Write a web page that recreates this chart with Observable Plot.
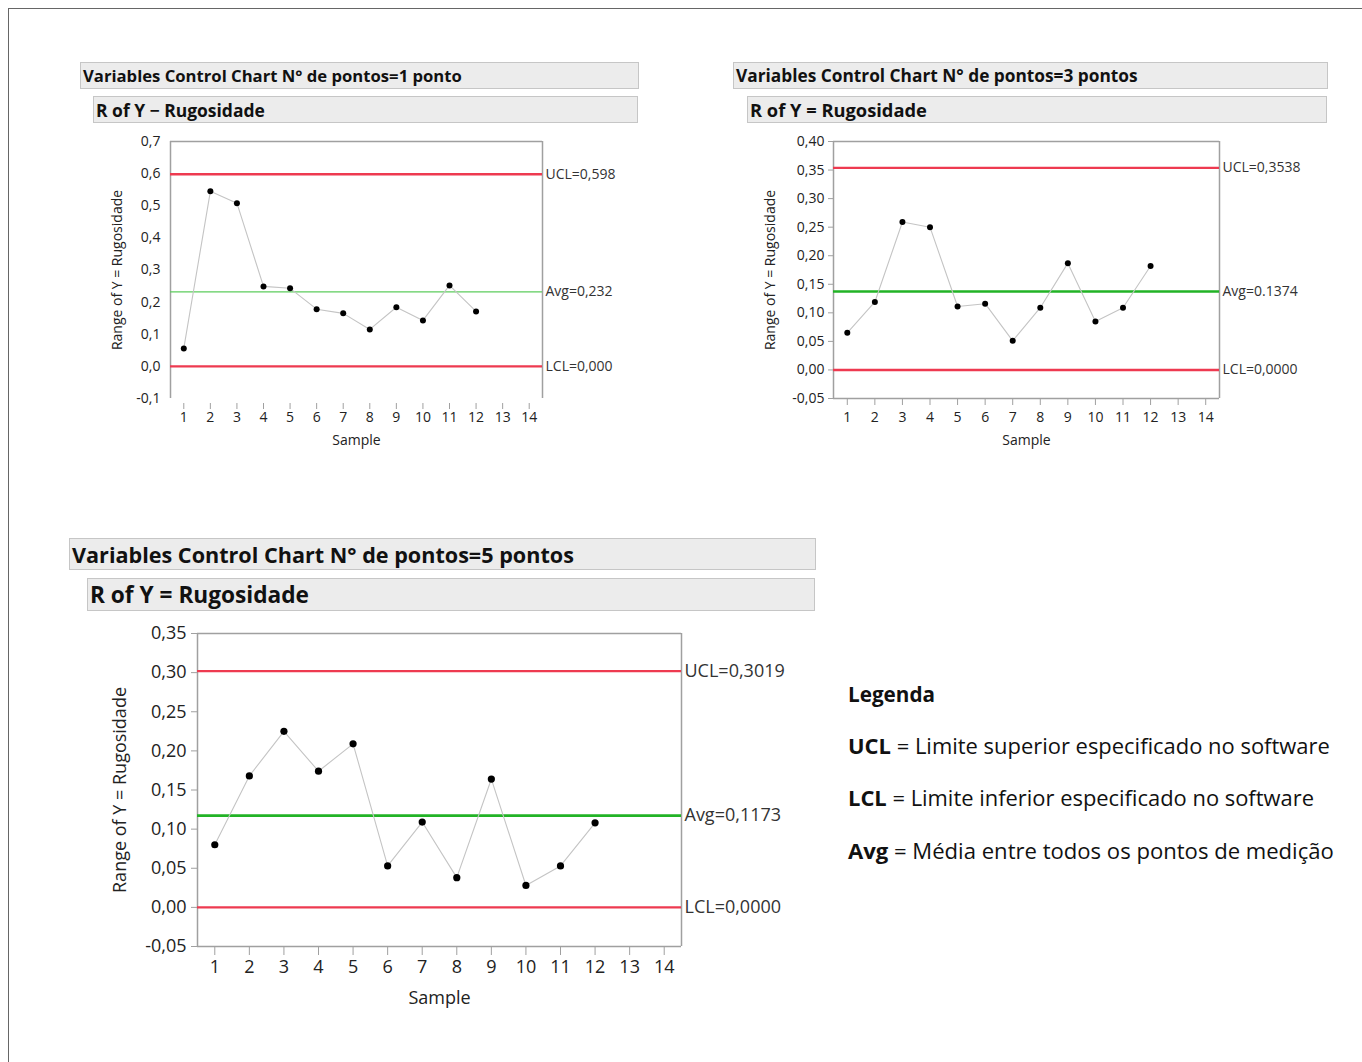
<!DOCTYPE html>
<html><head><meta charset="utf-8">
<script src="https://cdn.jsdelivr.net/npm/d3@7"></script>
<script src="https://cdn.jsdelivr.net/npm/@observablehq/plot@0.6"></script>
<style>
body{margin:0;background:#fff;}
#root{position:relative;width:1362px;height:1062px;overflow:hidden;font-family:"Open Sans",sans-serif;background:#fff;}
.frame{position:absolute;left:8px;top:8px;width:1400px;height:1100px;border-left:1px solid #666;border-top:1px solid #666;}
.bar{position:absolute;background:#ececec;border:1px solid #c6c6c6;box-sizing:border-box;font-weight:700;color:#111;white-space:nowrap;display:flex;align-items:center;padding-left:2px;}
.plot{position:absolute;}
.leg{position:absolute;white-space:nowrap;color:#111;font-family:"Open Sans",sans-serif;}
.leg b{font-weight:700;}
</style></head><body><div id="root"><div class="frame"></div></div>
<script>
// ---------- data ----------
const samples = [1,2,3,4,5,6,7,8,9,10,11,12];
const xTicks = [1,2,3,4,5,6,7,8,9,10,11,12,13,14];

const range1 = [0.056,0.545,0.508,0.249,0.243,0.178,0.165,0.115,0.184,0.143,0.252,0.171];
const range2 = [0.065,0.119,0.259,0.250,0.111,0.116,0.051,0.109,0.187,0.085,0.109,0.182];
const range3 = [0.080,0.168,0.225,0.174,0.209,0.053,0.109,0.038,0.164,0.028,0.053,0.108];

const limits1 = [0.598, 0.232, 0.0];
const limits2 = [0.3538, 0.1374, 0.0];
const limits3 = [0.3019, 0.1173, 0.0];
const limitLabels1 = ["UCL=0,598","Avg=0,232","LCL=0,000"];
const limitLabels2 = ["UCL=0,3538","Avg=0.1374","LCL=0,0000"];
const limitLabels3 = ["UCL=0,3019","Avg=0,1173","LCL=0,0000"];

const yTicks1 = [-0.1,0,0.1,0.2,0.3,0.4,0.5,0.6,0.7];
const yTicks2 = [-0.05,0,0.05,0.10,0.15,0.20,0.25,0.30,0.35,0.40];
const yTicks3 = [-0.05,0,0.05,0.10,0.15,0.20,0.25,0.30,0.35];

const titles1 = ["Variables Control Chart N° de pontos=1 ponto","R of Y − Rugosidade"];
const titles2 = ["Variables Control Chart N° de pontos=3 pontos","R of Y = Rugosidade"];
const titles3 = ["Variables Control Chart N° de pontos=5 pontos","R of Y = Rugosidade"];
const yLabel = "Range of Y = Rugosidade";
const xLabel = "Sample";

const legendTitle = "Legenda";
const legendKeys = ["UCL","LCL","Avg"];
const legendTexts = [" = Limite superior especificado no software"," = Limite inferior especificado no software"," = Média entre todos os pontos de medição"];

// ---------- helpers ----------
const root = document.getElementById("root");
const RED = "#ee3a50", GREEN = "#22b326", GREEN_LIGHT = "#5ccc5c", FRAME = "#a0a0a0";
const FONT = "'Open Sans', sans-serif";
const cv = document.createElement("canvas").getContext("2d");
function fit(text, weight, target, family = "Open Sans") {
  cv.font = `${weight} 100px "${family}"`;
  return 100 * target / cv.measureText(text).width;
}
function bar(text, x, y, w, h, textWidth) {
  const d = document.createElement("div");
  d.className = "bar";
  Object.assign(d.style, {left: x+"px", top: y+"px", width: w+"px", height: h+"px",
    fontSize: fit(text, 700, textWidth).toFixed(2) + "px"});
  d.textContent = text;
  root.appendChild(d);
}
function comma(dec) { return v => v.toFixed(dec).replace(".", ","); }

function chart(o) {
  const [top, right, bottom, left] = o.margin;
  const yd = o.yDomain, xd = [0.5, 14.5];
  const marks = [
    Plot.ruleY([yd[1]], {stroke: FRAME, strokeWidth: 1.5}),
    Plot.ruleX(xd, {stroke: FRAME, strokeWidth: 1.5}),
  ];
  if (o.bottomLine) marks.push(Plot.ruleY([yd[0]], {stroke: FRAME, strokeWidth: 1.5}));
  marks.push(
    Plot.ruleY([o.limits[0], o.limits[2]], {stroke: RED, strokeWidth: 2.4}),
    Plot.ruleY([o.limits[1]], {stroke: o.avgColor, strokeWidth: o.avgWidth}),
    Plot.line(o.values, {x: (d,i) => samples[i], y: d => d, stroke: "#c4c4c4", strokeWidth: 1.1}),
    Plot.dot(o.values, {x: (d,i) => samples[i], y: d => d, r: o.r, fill: "#000"}),
    Plot.text(o.limits, {y: d => d, text: (d,i) => o.limitLabels[i], frameAnchor: "right",
      textAnchor: "start", dx: 3, fontSize: o.fontSize, fill: "#333"}),
    Plot.axisY({ticks: o.yTicks, tickFormat: comma(o.dec), tickSize: o.yTickSize, tickPadding: o.yTickPad,
      stroke: FRAME, fill: "#222", fontSize: o.fontSize,
      label: yLabel, labelAnchor: "center", labelOffset: o.yLabelOffset, labelArrow: "none"}),
    Plot.axisX({ticks: xTicks, tickFormat: d => String(d), tickSize: o.xTickSize, tickPadding: o.xTickPad,
      stroke: FRAME, fill: "#222", fontSize: o.fontSize, dy: o.xTickOffset,
      label: xLabel, labelAnchor: "center", labelOffset: o.xLabelOffset, labelArrow: "none"})
  );
  const p = Plot.plot({
    width: o.width, height: o.height,
    marginTop: top, marginRight: right, marginBottom: bottom, marginLeft: left,
    x: {domain: xd}, y: {domain: yd},
    style: {fontFamily: FONT, fontSize: o.fontSize + "px", color: "#333", background: "transparent", overflow: "visible"},
    marks
  });
  p.classList.add("plot");
  p.style.left = o.x + "px"; p.style.top = o.y + "px";
  root.appendChild(p);
}

// ---------- chart 1 ----------
bar(titles1[0], 80, 62, 559, 27, 379);
bar(titles1[1], 93, 96, 545, 27, 169);
chart({x: 100, y: 130, width: 540, height: 330, margin: [11, 98, 62, 70],
  values: range1, limits: limits1, limitLabels: limitLabels1,
  yDomain: [-0.1, 0.7], yTicks: yTicks1, dec: 1, fontSize: 14,
  avgColor: GREEN_LIGHT, avgWidth: 1.2, r: 3, bottomLine: false,
  yTickSize: 0, yTickPad: 10, xTickSize: 6, xTickPad: 3, xTickOffset: 5,
  yLabelOffset: 58, xLabelOffset: 46});

// ---------- chart 2 ----------
bar(titles2[0], 733, 62, 595, 27, 402);
bar(titles2[1], 747, 96, 580, 27, 177);
chart({x: 750, y: 130, width: 580, height: 330, margin: [11, 111, 62, 83],
  values: range2, limits: limits2, limitLabels: limitLabels2,
  yDomain: [-0.05, 0.40], yTicks: yTicks2, dec: 2, fontSize: 14,
  avgColor: GREEN, avgWidth: 2.6, r: 3, bottomLine: true,
  yTickSize: 5, yTickPad: 4, xTickSize: 7, xTickPad: 7, xTickOffset: 0,
  yLabelOffset: 68, xLabelOffset: 46});

// ---------- chart 3 ----------
bar(titles3[0], 69, 538, 747, 32, 502);
bar(titles3[1], 87, 578, 728, 33, 219);
chart({x: 100, y: 620, width: 720, height: 400, margin: [13, 139, 74, 97],
  values: range3, limits: limits3, limitLabels: limitLabels3,
  yDomain: [-0.05, 0.35], yTicks: yTicks3, dec: 2, fontSize: 18,
  avgColor: GREEN, avgWidth: 2.6, r: 3.6, bottomLine: true,
  yTickSize: 6, yTickPad: 5, xTickSize: 9, xTickPad: 5, xTickOffset: 0,
  yLabelOffset: 84, xLabelOffset: 57});

// ---------- legend ----------
const lt = document.createElement("div");
lt.className = "leg";
lt.style.left = "848px"; lt.style.top = "680px";
lt.style.fontWeight = 700;
lt.style.fontSize = fit(legendTitle, 700, 87).toFixed(2) + "px";
lt.style.lineHeight = "28px";
lt.textContent = legendTitle;
root.appendChild(lt);
const legW = [482, 466, 486];
legendKeys.forEach((k, i) => {
  const d = document.createElement("div");
  d.className = "leg";
  d.style.left = "848px"; d.style.top = (732 + 52 * i) + "px";
  d.style.lineHeight = "28px";
  cv.font = `700 100px "Open Sans"`; const wb = cv.measureText(k).width;
  cv.font = `400 100px "Open Sans"`; const wn = cv.measureText(legendTexts[i]).width;
  d.style.fontSize = (100 * legW[i] / (wb + wn)).toFixed(2) + "px";
  d.innerHTML = `<b>${k}</b>${legendTexts[i]}`;
  root.appendChild(d);
});
</script></body></html>
